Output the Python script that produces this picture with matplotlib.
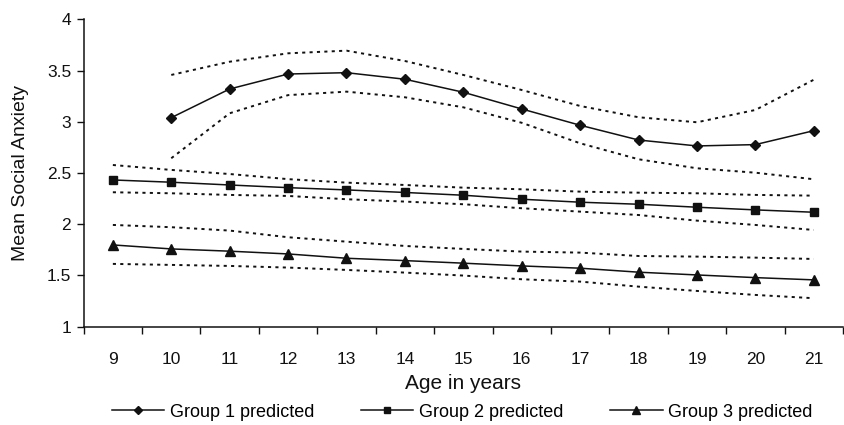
import matplotlib
matplotlib.use("Agg")
import matplotlib.pyplot as plt

ages = [9, 10, 11, 12, 13, 14, 15, 16, 17, 18, 19, 20, 21]

g1_ages = [10, 11, 12, 13, 14, 15, 16, 17, 18, 19, 20, 21]
g1 = [3.04, 3.32, 3.466, 3.479, 3.415, 3.288, 3.125, 2.966, 2.822, 2.764, 2.777, 2.913]
g1_hi = [3.457, 3.586, 3.668, 3.694, 3.593, 3.457, 3.31, 3.154, 3.044, 2.995, 3.115, 3.41]
g1_lo = [2.644, 3.083, 3.26, 3.294, 3.239, 3.141, 2.99, 2.79, 2.634, 2.546, 2.503, 2.439]

g2 = [2.432, 2.41, 2.383, 2.357, 2.335, 2.31, 2.283, 2.244, 2.215, 2.195, 2.166, 2.14, 2.117]
g2_hi = [2.578, 2.53, 2.49, 2.44, 2.406, 2.383, 2.357, 2.341, 2.318, 2.308, 2.302, 2.286, 2.279]
g2_lo = [2.312, 2.302, 2.286, 2.276, 2.244, 2.221, 2.195, 2.156, 2.123, 2.09, 2.035, 1.993, 1.944]

g3 = [1.798, 1.759, 1.737, 1.71, 1.668, 1.645, 1.62, 1.593, 1.571, 1.532, 1.505, 1.479, 1.457]
g3_hi = [1.993, 1.971, 1.938, 1.873, 1.83, 1.788, 1.759, 1.733, 1.723, 1.69, 1.684, 1.674, 1.661]
g3_lo = [1.613, 1.603, 1.593, 1.577, 1.554, 1.528, 1.499, 1.463, 1.44, 1.391, 1.349, 1.31, 1.278]

yticks = [1, 1.5, 2, 2.5, 3, 3.5, 4]
ytick_labels = ["1", "1.5", "2", "2.5", "3", "3.5", "4"]

plt.rcParams['font.family'] = ['Liberation Sans', 'DejaVu Sans']
col = "#111111"

fig = plt.figure(figsize=(8.45, 4.25), dpi=100)
ax = fig.add_axes([0.099, 0.2313, 0.8986, 0.7233])

pos = {a: i for i, a in enumerate(ages)}
x_all = [pos[a] for a in ages]
x_g1 = [pos[a] for a in g1_ages]

dot = dict(color=col, lw=1.4, linestyle=(0, (1.6, 2.2)))
for xs, ys in [(x_g1, g1_hi), (x_g1, g1_lo), (x_all, g2_hi), (x_all, g2_lo),
               (x_all, g3_hi), (x_all, g3_lo)]:
    ax.plot(xs, ys, **dot)

l1, = ax.plot(x_g1, g1, color=col, lw=1.1, marker='D', ms=5.2, label="Group 1 predicted")
l2, = ax.plot(x_all, g2, color=col, lw=1.1, marker='s', ms=5.8, label="Group 2 predicted")
l3, = ax.plot(x_all, g3, color=col, lw=1.1, marker='^', ms=6.8, label="Group 3 predicted")

ax.set_xlim(-0.5, len(ages) - 0.5)
ax.set_ylim(1, 4)
ax.set_yticks(yticks)
ax.set_yticklabels(ytick_labels)
ax.set_xticks(x_all)
ax.set_xticklabels([str(a) for a in ages])
ax.set_xticks([i - 0.5 for i in range(len(ages) + 1)], minor=True)
ax.tick_params(axis='x', which='major', length=0, pad=18, labelsize=12.5, colors=col)
ax.tick_params(axis='x', which='minor', length=5, width=1, color=col)
ax.tick_params(axis='y', length=5, width=1, labelsize=12.5, color=col, labelcolor=col, pad=4)

for s in ['top', 'right']:
    ax.spines[s].set_visible(False)
for s in ['left', 'bottom']:
    ax.spines[s].set_color(col)
    ax.spines[s].set_linewidth(1.1)

ax.set_ylabel("Mean Social Anxiety", fontsize=14, color=col, labelpad=13)
ax.set_xlabel("Age in years", fontsize=15, color=col, labelpad=5)

fig.legend(handles=[l1, l2, l3], loc='center', bbox_to_anchor=(0.547, 0.03),
           ncol=3, frameon=False, fontsize=13, handlelength=2.9, columnspacing=2.6,
           handletextpad=0.3, markerscale=0.75, borderpad=0)

fig.savefig("out.png", dpi=100)
